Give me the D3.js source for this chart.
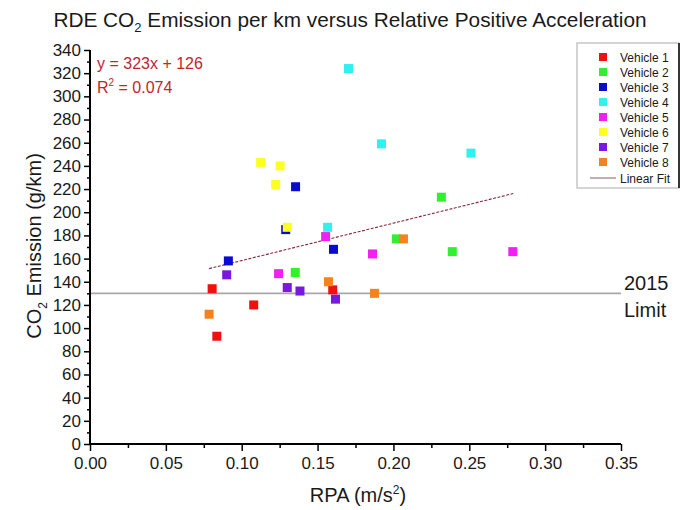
<!DOCTYPE html>
<html>
<head>
<meta charset="utf-8">
<script src="https://cdn.jsdelivr.net/npm/d3@7/dist/d3.min.js"></script>
<style>
  html, body { margin: 0; padding: 0; background: #fff; }
  svg { display: block; font-family: "Liberation Sans", Arial, sans-serif; }
</style>
</head>
<body>
<svg id="chart" width="688" height="510"></svg>
<script>
// Vehicle names and marker colours
const vehicles = ["Vehicle 1", "Vehicle 2", "Vehicle 3", "Vehicle 4",
                  "Vehicle 5", "Vehicle 6", "Vehicle 7", "Vehicle 8"];
const colors = ["#f01010", "#30f030", "#0a0ad2", "#30f0f0",
                "#f020f0", "#ffff20", "#7a18e0", "#f5821e"];

// RPA (m/s^2) per trip, one array per vehicle
const rpa = [
  [0.0805, 0.0836, 0.1079, 0.1600],
  [0.2316, 0.2388, 0.1353, 0.2020],
  [0.0912, 0.1355, 0.1605, 0.1290],
  [0.1704, 0.1921, 0.1566, 0.2511],
  [0.1243, 0.1553, 0.1862, 0.2787],
  [0.1125, 0.1253, 0.1224, 0.1300],
  [0.0901, 0.1300, 0.1384, 0.1618],
  [0.0785, 0.1572, 0.2066, 0.1875]
];
// CO2 emission (g/km) per trip, one array per vehicle
const co2 = [
  [134, 93, 120, 133],
  [213, 166, 148, 177],
  [158, 222, 168, 185],
  [324, 259, 187, 251],
  [147, 179, 164, 166],
  [243, 240, 224, 187],
  [146, 135, 132, 125],
  [112, 140, 177, 130]
];

// Linear fit over all trips
const fitSlope = 323;
const fitIntercept = 126;
const fitRange = [0.0785, 0.279];
const fitLabel = "y = 323x + 126";
const fitR2 = "0.074";

// 2015 fleet limit (g/km)
const limitValue = 130;

// Axis ticks
const xTicks = [0, 0.05, 0.10, 0.15, 0.20, 0.25, 0.30, 0.35];
const xMinor = [0.025, 0.075, 0.125, 0.175, 0.225, 0.275, 0.325];
const yTicks = d3.range(0, 341, 20);
const yMinor = d3.range(10, 340, 20);

const svg = d3.select("#chart");
const plotLeft = 90, plotRight = 621, plotTop = 50, plotBottom = 444;

const x = d3.scaleLinear().domain([0, 0.35]).range([plotLeft, plotRight]);
const y = d3.scaleLinear().domain([0, 340]).range([plotBottom, plotTop]);

// Title
const title = svg.append("text")
  .attr("x", 350).attr("y", 27)
  .attr("text-anchor", "middle")
  .attr("font-size", 20.8).attr("fill", "#1a1a1a");
title.append("tspan").text("RDE CO");
title.append("tspan").attr("font-size", 13).attr("dy", 5).text("2");
title.append("tspan").attr("dy", -5).text(" Emission per km versus Relative Positive Acceleration");

// 2015 limit line
svg.append("line")
  .attr("x1", x(0)).attr("x2", x(0.35))
  .attr("y1", y(limitValue)).attr("y2", y(limitValue))
  .attr("stroke", "#a8a8a8").attr("stroke-width", 1.6);

svg.append("text").attr("x", 624).attr("y", y(limitValue) - 3)
  .attr("font-size", 20).attr("fill", "#1a1a1a").text("2015");
svg.append("text").attr("x", 624).attr("y", y(limitValue) + 24)
  .attr("font-size", 20).attr("fill", "#1a1a1a").text("Limit");

// Linear fit line
svg.append("line")
  .attr("x1", x(fitRange[0])).attr("y1", y(fitSlope * fitRange[0] + fitIntercept))
  .attr("x2", x(fitRange[1])).attr("y2", y(fitSlope * fitRange[1] + fitIntercept))
  .attr("stroke", "#8a2a3a").attr("stroke-width", 1.1)
  .attr("stroke-dasharray", "3,1.5");

// Markers, vehicle by vehicle
const sq = 9;
vehicles.forEach((name, i) => {
  svg.append("g").selectAll("rect")
    .data(d3.zip(rpa[i], co2[i]))
    .join("rect")
    .attr("x", d => x(d[0]) - sq / 2)
    .attr("y", d => y(d[1]) - sq / 2)
    .attr("width", sq).attr("height", sq)
    .attr("fill", colors[i]);
});

// Axes
const xAxis = svg.append("g").attr("transform", `translate(0,${plotBottom})`)
  .call(d3.axisBottom(x).tickValues(xTicks).tickFormat(d3.format(".2f"))
    .tickSize(7).tickPadding(6));
svg.append("g").attr("transform", `translate(0,${plotBottom})`)
  .call(d3.axisBottom(x).tickValues(xMinor).tickFormat("").tickSize(4))
  .select(".domain").remove();

const yAxis = svg.append("g").attr("transform", `translate(${plotLeft},0)`)
  .call(d3.axisLeft(y).tickValues(yTicks).tickSize(6).tickPadding(3));
svg.append("g").attr("transform", `translate(${plotLeft},0)`)
  .call(d3.axisLeft(y).tickValues(yMinor).tickFormat("").tickSize(3))
  .select(".domain").remove();

svg.selectAll(".tick line").attr("stroke", "#000").attr("stroke-width", 1.5);
svg.selectAll(".domain").attr("stroke", "#000").attr("stroke-width", 2);
svg.selectAll(".tick text").attr("font-size", 17).attr("fill", "#1a1a1a")
  .attr("font-family", "Liberation Sans, Arial, sans-serif");
xAxis.select(".domain").attr("d", `M${plotLeft},0H${plotRight}`);
yAxis.select(".domain").attr("d", `M0,${plotBottom}V${plotTop}`);

// Axis titles
const xt = svg.append("text").attr("x", 358).attr("y", 502)
  .attr("text-anchor", "middle").attr("font-size", 20).attr("fill", "#1a1a1a");
xt.append("tspan").text("RPA (m/s");
xt.append("tspan").attr("font-size", 12).attr("dy", -8).text("2");
xt.append("tspan").attr("dy", 8).text(")");

const yt = svg.append("text")
  .attr("transform", `translate(41,246) rotate(-90)`)
  .attr("text-anchor", "middle").attr("font-size", 20).attr("fill", "#1a1a1a");
yt.append("tspan").text("CO");
yt.append("tspan").attr("font-size", 12).attr("dy", 6).text("2");
yt.append("tspan").attr("dy", -6).text(" Emission (g/km)");

// Fit equation
svg.append("text").attr("x", 97).attr("y", 69)
  .attr("font-size", 16).attr("fill", "#c0262e").text(fitLabel);
const r2 = svg.append("text").attr("x", 97).attr("y", 93)
  .attr("font-size", 16).attr("fill", "#c0262e");
r2.append("tspan").text("R");
r2.append("tspan").attr("font-size", 10).attr("dy", -7).text("2");
r2.append("tspan").attr("dy", 7).text(" = " + fitR2);

// Legend
const lg = svg.append("g");
lg.append("rect").attr("x", 577).attr("y", 43).attr("width", 102).attr("height", 145)
  .attr("fill", "#fff").attr("stroke", "#aaa").attr("stroke-width", 1);
lg.append("line").attr("x1", 679).attr("x2", 679).attr("y1", 43).attr("y2", 188)
  .attr("stroke", "#000").attr("stroke-width", 1.5);
vehicles.forEach((name, i) => {
  const cy = 57 + i * 15;
  lg.append("rect").attr("x", 599).attr("y", cy - 4).attr("width", 8).attr("height", 8)
    .attr("fill", colors[i]);
  lg.append("text").attr("x", 620).attr("y", cy + 4.5)
    .attr("font-size", 12).attr("fill", "#1a1a1a").text(name);
});
lg.append("line").attr("x1", 590).attr("x2", 616).attr("y1", 178).attr("y2", 178)
  .attr("stroke", "#8a5a60").attr("stroke-width", 1);
lg.append("text").attr("x", 620).attr("y", 182.5)
  .attr("font-size", 12).attr("fill", "#1a1a1a").text("Linear Fit");
</script>
</body>
</html>
